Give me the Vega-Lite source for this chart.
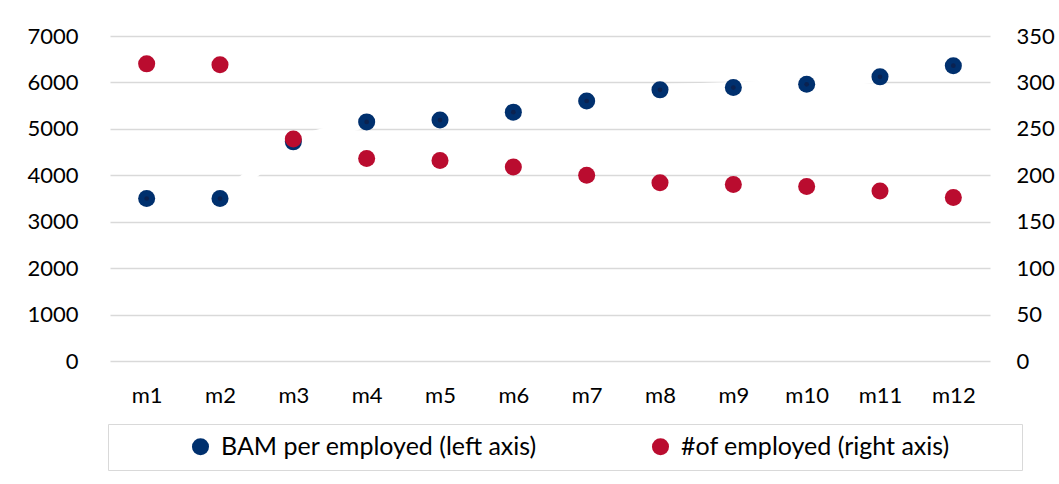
{
  "$schema": "https://vega.github.io/schema/vega-lite/v6.json",
  "width": 880,
  "height": 325,
  "autosize": {"type": "none"},
  "padding": {"left": 110, "top": 36, "right": 69, "bottom": 123},
  "background": "white",
  "config": {
    "font": "Lato",
    "view": {"stroke": null},
    "axis": {
      "labelFont": "Lato",
      "labelFontSize": 22,
      "labelColor": "#000000",
      "domain": false,
      "ticks": false,
      "title": null,
      "gridColor": "#D9D9D9",
      "gridWidth": 1.5
    },
    "legend": {
      "orient": "none",
      "legendX": -2,
      "legendY": 388,
      "direction": "horizontal",
      "strokeColor": "#D9D9D9",
      "padding": 10,
      "symbolSize": 290,
      "symbolType": "circle",
      "symbolStrokeWidth": 0,
      "labelFont": "Lato",
      "labelFontSize": 25,
      "labelColor": "#000000",
      "labelLimit": 0,
      "symbolOffset": 70,
      "labelOffset": 8,
      "columnPadding": 41,
      "titleOrient": "right",
      "titleOpacity": 0,
      "titlePadding": 56
    }
  },
  "data": {
    "values": [
      {"m": "m1", "bam": 3500, "emp": 320},
      {"m": "m2", "bam": 3500, "emp": 319},
      {"m": "m3", "bam": 4720, "emp": 239},
      {"m": "m4", "bam": 5150, "emp": 218},
      {"m": "m5", "bam": 5190, "emp": 216},
      {"m": "m6", "bam": 5360, "emp": 209},
      {"m": "m7", "bam": 5600, "emp": 200},
      {"m": "m8", "bam": 5840, "emp": 192},
      {"m": "m9", "bam": 5890, "emp": 190},
      {"m": "m10", "bam": 5960, "emp": 188},
      {"m": "m11", "bam": 6120, "emp": 183},
      {"m": "m12", "bam": 6360, "emp": 176}
    ]
  },
  "encoding": {
    "x": {
      "field": "m",
      "type": "nominal",
      "sort": null,
      "axis": {"labelAngle": 0, "labelPadding": 24, "grid": false}
    }
  },
  "layer": [
    {
      "encoding": {
        "y": {
          "field": "bam",
          "type": "quantitative",
          "scale": {"domain": [0, 7000]},
          "axis": {"values": [0, 1000, 2000, 3000, 4000, 5000, 6000, 7000], "format": "d", "labelPadding": 32, "grid": true, "orient": "left"}
        }
      },
      "layer": [
        {"mark": {"type": "line", "color": "white", "strokeWidth": 11}},
        {
          "mark": {"type": "point", "filled": true, "shape": "circle", "size": 290, "opacity": 1},
          "encoding": {
            "color": {
              "datum": "BAM per employed (left axis)",
              "type": "nominal",
              "scale": {"domain": ["BAM per employed (left axis)", "#of employed (right axis)"], "range": ["#00306E", "#BA0C2F"]},
              "legend": {"title": "x"}
            }
          }
        },
        {"mark": {"type": "point", "filled": true, "shape": "circle", "size": 22, "opacity": 1, "color": "#0B2250"}}
      ]
    },
    {
      "mark": {"type": "point", "filled": true, "shape": "circle", "size": 290, "opacity": 1},
      "encoding": {
        "y": {
          "field": "emp",
          "type": "quantitative",
          "scale": {"domain": [0, 350]},
          "axis": {"values": [0, 50, 100, 150, 200, 250, 300, 350], "format": "d", "labelPadding": 26, "grid": false, "orient": "right"}
        },
        "color": {"datum": "#of employed (right axis)", "type": "nominal"}
      }
    }
  ],
  "resolve": {"scale": {"y": "independent"}}
}
